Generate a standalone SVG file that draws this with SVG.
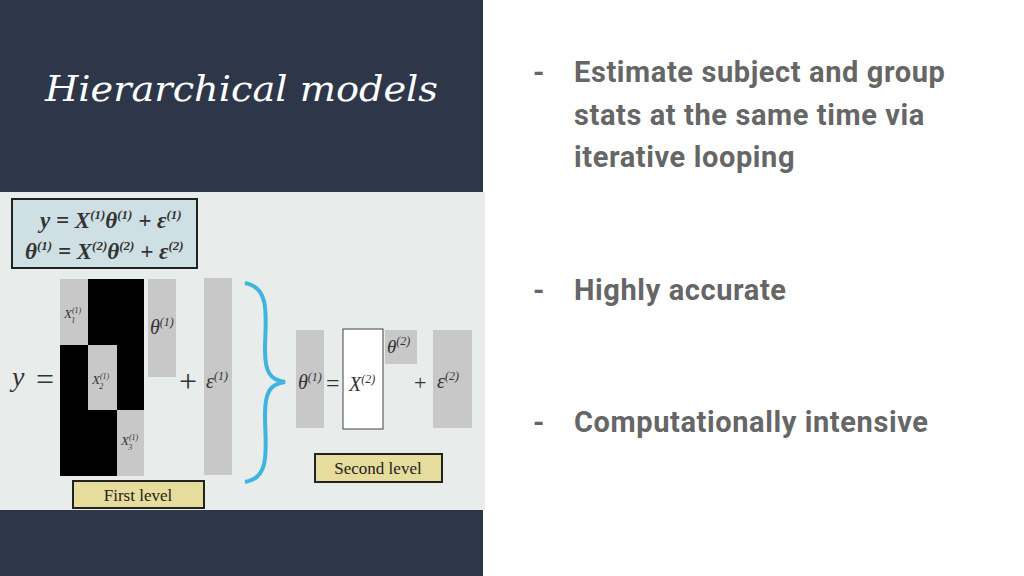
<svg xmlns="http://www.w3.org/2000/svg" width="1024" height="576" viewBox="0 0 1024 576">
<style>
.b{font-family:Roboto,"Liberation Sans",sans-serif;font-weight:bold;font-size:29px;fill:#666;letter-spacing:0.6px}
.m{font-family:"Liberation Serif",serif;font-style:italic;fill:#333}
.g{fill:#c8c8c8}
.lab{font-family:"Liberation Serif",serif;font-size:17px;fill:#222;text-anchor:middle}
</style>
<rect width="1024" height="576" fill="#fff"/>
<rect x="0" y="0" width="483" height="192" fill="#2e374a"/>
<rect x="0" y="510" width="483" height="66" fill="#2e374a"/>
<text x="45" y="101" font-family="'DejaVu Serif',serif" font-style="italic" font-size="36" fill="#fff" textLength="393" lengthAdjust="spacingAndGlyphs">Hierarchical models</text>
<g id="img">
<rect x="0" y="192" width="485" height="318" fill="#e8ecea"/>
<g id="eqbox"><rect x="12" y="199" width="185" height="69" fill="#cfe0e4" stroke="#222" stroke-width="2"/>
<text class="m" x="40" y="228" font-size="23" font-weight="bold">y = X<tspan font-size="13" dy="-9">(1)</tspan><tspan dy="9">θ</tspan><tspan font-size="13" dy="-9">(1)</tspan><tspan dy="9"> + ε</tspan><tspan font-size="13" dy="-9">(1)</tspan></text>
<text class="m" x="25" y="259" font-size="23" font-weight="bold">θ<tspan font-size="13" dy="-9">(1)</tspan><tspan dy="9"> = X</tspan><tspan font-size="13" dy="-9">(2)</tspan><tspan dy="9">θ</tspan><tspan font-size="13" dy="-9">(2)</tspan><tspan dy="9"> + ε</tspan><tspan font-size="13" dy="-9">(2)</tspan></text></g>
<text class="m" x="12" y="386" font-size="28">y</text>
<text x="36" y="390" font-family="'Liberation Serif',serif" font-size="32" fill="#333">=</text>
<g id="X1">
<rect x="60" y="279" width="84" height="197" fill="#000"/>
<rect class="g" x="60" y="279" width="28" height="66"/>
<rect class="g" x="88" y="345" width="29" height="65"/>
<rect class="g" x="117" y="410" width="27" height="66"/>
<text class="m" x="64" y="318" font-size="13">X<tspan font-size="8" dy="-5">(1)</tspan><tspan font-size="8" dx="-10" dy="10">1</tspan></text>
<text class="m" x="92" y="384" font-size="13">X<tspan font-size="8" dy="-5">(1)</tspan><tspan font-size="8" dx="-10" dy="10">2</tspan></text>
<text class="m" x="121" y="445" font-size="13">X<tspan font-size="8" dy="-5">(1)</tspan><tspan font-size="8" dx="-10" dy="10">3</tspan></text>
</g>
<g id="theta1"><rect class="g" x="148" y="279" width="28" height="98"/>
<text class="m" x="150" y="334" font-size="20">θ<tspan font-size="12" dy="-8">(1)</tspan></text></g>
<text x="179" y="392" font-family="'Liberation Serif',serif" font-size="32" fill="#333">+</text>
<g id="eps1"><rect class="g" x="204" y="278" width="28" height="197"/>
<text class="m" x="206" y="388" font-size="20">ε<tspan font-size="12" dy="-8">(1)</tspan></text></g>
<path d="M245,283 C272,288 265,320 265,350 C265,372 270,380 285,382 C270,384 265,392 265,415 C265,445 272,478 245,482" fill="none" stroke="#3fb4e0" stroke-width="4"/>
<g id="theta1r"><rect class="g" x="296" y="330" width="28" height="98"/>
<text class="m" x="298" y="389" font-size="20">θ<tspan font-size="12" dy="-8">(1)</tspan></text></g>
<text x="326" y="391" font-family="'Liberation Serif',serif" font-size="24" fill="#333">=</text>
<g id="X2"><rect x="343" y="329" width="40" height="100" fill="#fff" stroke="#444" stroke-width="1"/>
<text class="m" x="349" y="391" font-size="20">X<tspan font-size="12" dy="-8">(2)</tspan></text></g>
<g id="theta2"><rect class="g" x="385" y="330" width="32" height="34"/>
<text class="m" x="387" y="353" font-size="19">θ<tspan font-size="12" dy="-8">(2)</tspan></text></g>
<text x="414" y="390" font-family="'Liberation Serif',serif" font-size="22" fill="#333">+</text>
<g id="eps2"><rect class="g" x="433" y="330" width="39" height="98"/>
<text class="m" x="437" y="388" font-size="20">ε<tspan font-size="12" dy="-8">(2)</tspan></text></g>
<g id="second"><rect x="315" y="454" width="127" height="28" fill="#e6dc9c" stroke="#222" stroke-width="2"/>
<text class="lab" x="378" y="474">Second level</text></g>
<g id="first"><rect x="73" y="481" width="131" height="27" fill="#e6dc9c" stroke="#222" stroke-width="2"/>
<text class="lab" x="138" y="501">First level</text></g>
</g>
<g id="bullets">
<text class="b" x="533" y="82">-</text>
<text class="b" x="574" y="82">Estimate subject and group</text>
<text class="b" x="574" y="125">stats at the same time via</text>
<text class="b" x="574" y="167">iterative looping</text>
<text class="b" x="533" y="300">-</text>
<text class="b" x="574" y="300">Highly accurate</text>
<text class="b" x="533" y="432">-</text>
<text class="b" x="574" y="432">Computationally intensive</text>
</g>
</svg>
